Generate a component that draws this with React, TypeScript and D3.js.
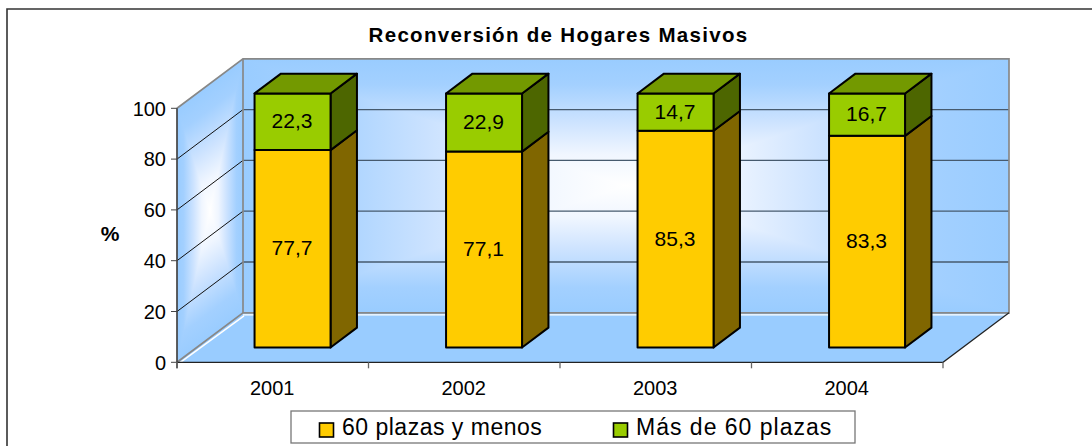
import React from "react";
import * as d3 from "d3";

const years = ["2001", "2002", "2003", "2004"];
const lower = [77.7, 77.1, 85.3, 83.3];
const upper = [22.3, 22.9, 14.7, 16.7];
const lowerLabels = ["77,7", "77,1", "85,3", "83,3"];
const upperLabels = ["22,3", "22,9", "14,7", "16,7"];
const yTicks = [0, 20, 40, 60, 80, 100];
const title = "Reconversión de Hogares Masivos";
const seriesNames = ["60 plazas y menos", "Más de 60 plazas"];

const FONT = "'Liberation Sans', Arial, sans-serif";
const DX = 66;
const DY = -49.5;
const x = d3.scaleBand<string>().domain(years).range([177, 943]).paddingInner(0).paddingOuter(0);
const y = d3.scaleLinear().domain([0, 100]).range([362.3, 108.3]);
const P = (px: number, v: number, d: number): [number, number] => [px + DX * d, y(v) + DY * d];
const pts = (a: [number, number][]) => a.map((p) => p.join(",")).join(" ");
const barW = x.bandwidth() / 2.52;
const gapIn = (x.bandwidth() - barW) / 2;
const D0 = 0.3;
const D1 = 0.7;

function PathWall({ matrix }: { matrix: string }) {
  const sh = "crispEdges";
  return (
    <g transform={`matrix(${matrix})`} shapeRendering={sh}>
      <polygon points="0,0 1,0 .5,.5" fill="url(#gT)" />
      <polygon points="0,1 1,1 .5,.5" fill="url(#gB)" />
      <polygon points="0,0 0,1 .5,.5" fill="url(#gL)" />
      <polygon points="1,0 1,1 .5,.5" fill="url(#gR)" />
    </g>
  );
}

const stops = (
  <>
    <stop offset="0" stopColor="#99CCFF" />
    <stop offset="0.2" stopColor="#A3D0FF" />
    <stop offset="0.5" stopColor="#CDE3FF" />
    <stop offset="0.75" stopColor="#F0F6FF" />
    <stop offset="1" stopColor="#FFFFFF" />
  </>
);

function Bar({ i }: { i: number }) {
  const x0 = x(years[i])! + gapIn;
  const x1 = x0 + barW;
  const segs = [
    { a: 0, b: lower[i], front: "#FFCC00", side: "#806600", top: "#806600", label: lowerLabels[i] },
    { a: lower[i], b: lower[i] + upper[i], front: "#99CC00", side: "#4D6600", top: "#739900", label: upperLabels[i] },
  ];
  return (
    <g stroke="#000" strokeWidth={2} strokeLinejoin="round">
      {segs.map((s, k) => (
        <g key={k}>
          <polygon points={pts([P(x1, s.a, D0), P(x1, s.a, D1), P(x1, s.b, D1), P(x1, s.b, D0)])} fill={s.side} />
          <polygon points={pts([P(x0, s.a, D0), P(x1, s.a, D0), P(x1, s.b, D0), P(x0, s.b, D0)])} fill={s.front} />
          {k === 1 && (
            <polygon points={pts([P(x0, s.b, D0), P(x1, s.b, D0), P(x1, s.b, D1), P(x0, s.b, D1)])} fill={s.top} />
          )}
        </g>
      ))}
      {segs.map((s, k) => {
        const [cx, cy] = P((x0 + x1) / 2, (s.a + s.b) / 2, D0);
        return (
          <text key={k} x={cx - 0.5} y={cy - 1} dy="0.36em" textAnchor="middle" stroke="none" fill="#000" fontFamily={FONT} fontSize={21}>
            {s.label}
          </text>
        );
      })}
    </g>
  );
}

export default function App() {
  const left = 177;
  const right = 943;
  return (
    <svg width={1092} height={446} style={{ position: "absolute", left: 0, top: 0, background: "#fff" }}>
      <defs>
        <linearGradient id="gT" x1="0" y1="0" x2="0" y2="1">{stops}</linearGradient>
        <linearGradient id="gB" x1="0" y1="1" x2="0" y2="0">{stops}</linearGradient>
        <linearGradient id="gL" x1="0" y1="0" x2="1" y2="0">{stops}</linearGradient>
        <linearGradient id="gR" x1="1" y1="0" x2="0" y2="0">{stops}</linearGradient>
      </defs>

      {/* chart frame */}
      <path d="M7,446 V9 H1092" fill="none" stroke="#333" strokeWidth={1.6} />

      {/* title */}
      <text x={558.5} y={42} textAnchor="middle" fontFamily={FONT} fontWeight="bold" fontSize={20.5} fill="#000" letterSpacing={1.3}>
        {title}
      </text>

      {/* walls */}
      <PathWall matrix={`${right - left},0,0,${y(0) - y(100)},${left + DX},${y(100) + DY}`} />
      <PathWall matrix={`${DX},${DY},0,${y(0) - y(100)},${left},${y(100)}`} />

      {/* floor */}
      <polygon points={pts([P(left, 0, 0), P(right, 0, 0), P(right, 0, 1), P(left, 0, 1)])} fill="#99CCFF" />

      {/* gridlines */}
      {yTicks.slice(1, -1).map((t) => (
        <g key={t}>
          <line x1={left} y1={y(t)} x2={left + DX} y2={y(t) + DY} stroke="#111" strokeWidth={1} />
          <line x1={left + DX} y1={y(t) + DY} x2={right + DX} y2={y(t) + DY} stroke="#465a6e" strokeWidth={1.3} />
        </g>
      ))}

      {/* wall edges */}
      <line x1={left + 2} y1={y(0) + 1} x2={left + DX + 1} y2={y(0) + DY + 3} stroke="#fff" strokeWidth={1.5} />
      <line x1={left + DX} y1={y(0) + DY + 2} x2={right + DX} y2={y(0) + DY + 2} stroke="#fff" strokeWidth={1.2} />
      <polyline
        points={pts([P(left, 100, 0), P(left, 100, 1), P(right, 100, 1), P(right, 0, 1), P(left, 0, 1), P(left, 0, 0)])}
        fill="none"
        stroke="#888"
        strokeWidth={1.7}
      />
      <line x1={left + DX} y1={y(100) + DY} x2={left + DX} y2={y(0) + DY} stroke="#888" strokeWidth={1.7} />

      {/* floor outer edges */}
      <polyline points={pts([P(left, 0, 0), P(right, 0, 0), P(right, 0, 1)])} fill="none" stroke="#222" strokeWidth={1.2} />

      {/* axes */}
      <line x1={left} y1={y(100)} x2={left} y2={y(0) + 6} stroke="#444" strokeWidth={1.7} />
      {yTicks.map((t) => (
        <g key={t}>
          <line x1={left - 6} y1={y(t)} x2={left} y2={y(t)} stroke="#444" strokeWidth={1} />
          <text x={166} y={y(t)} dy="0.36em" textAnchor="end" fontFamily={FONT} fontSize={20} fill="#000">
            {t}
          </text>
        </g>
      ))}
      {d3.range(5).map((i) => {
        const px = left + i * x.bandwidth();
        return <line key={i} x1={px} y1={y(0)} x2={px} y2={y(0) + 6} stroke="#666" strokeWidth={1.3} />;
      })}
      {years.map((yr) => (
        <text key={yr} x={x(yr)! + x.bandwidth() / 2 - 0.5} y={395} textAnchor="middle" fontFamily={FONT} fontSize={20} fill="#000">
          {yr}
        </text>
      ))}
      <text x={110} y={241} textAnchor="middle" fontFamily={FONT} fontWeight="bold" fontSize={21} fill="#000">
        %
      </text>

      {/* bars */}
      {years.map((_, i) => (
        <Bar key={i} i={i} />
      ))}

      {/* legend */}
      <rect x={291} y={411} width={564} height={32} fill="#fff" stroke="#777" strokeWidth={1.3} />
      <rect x={319.5} y={423} width={14} height={14} fill="#FFCC00" stroke="#000" strokeWidth={1.6} />
      <text x={342} y={435} fontFamily={FONT} fontSize={23} letterSpacing={0.5} fill="#000">
        {seriesNames[0]}
      </text>
      <rect x={613.5} y={423} width={14} height={14} fill="#99CC00" stroke="#000" strokeWidth={1.6} />
      <text x={636} y={435} fontFamily={FONT} fontSize={23} letterSpacing={1} fill="#000">
        {seriesNames[1]}
      </text>
    </svg>
  );
}
